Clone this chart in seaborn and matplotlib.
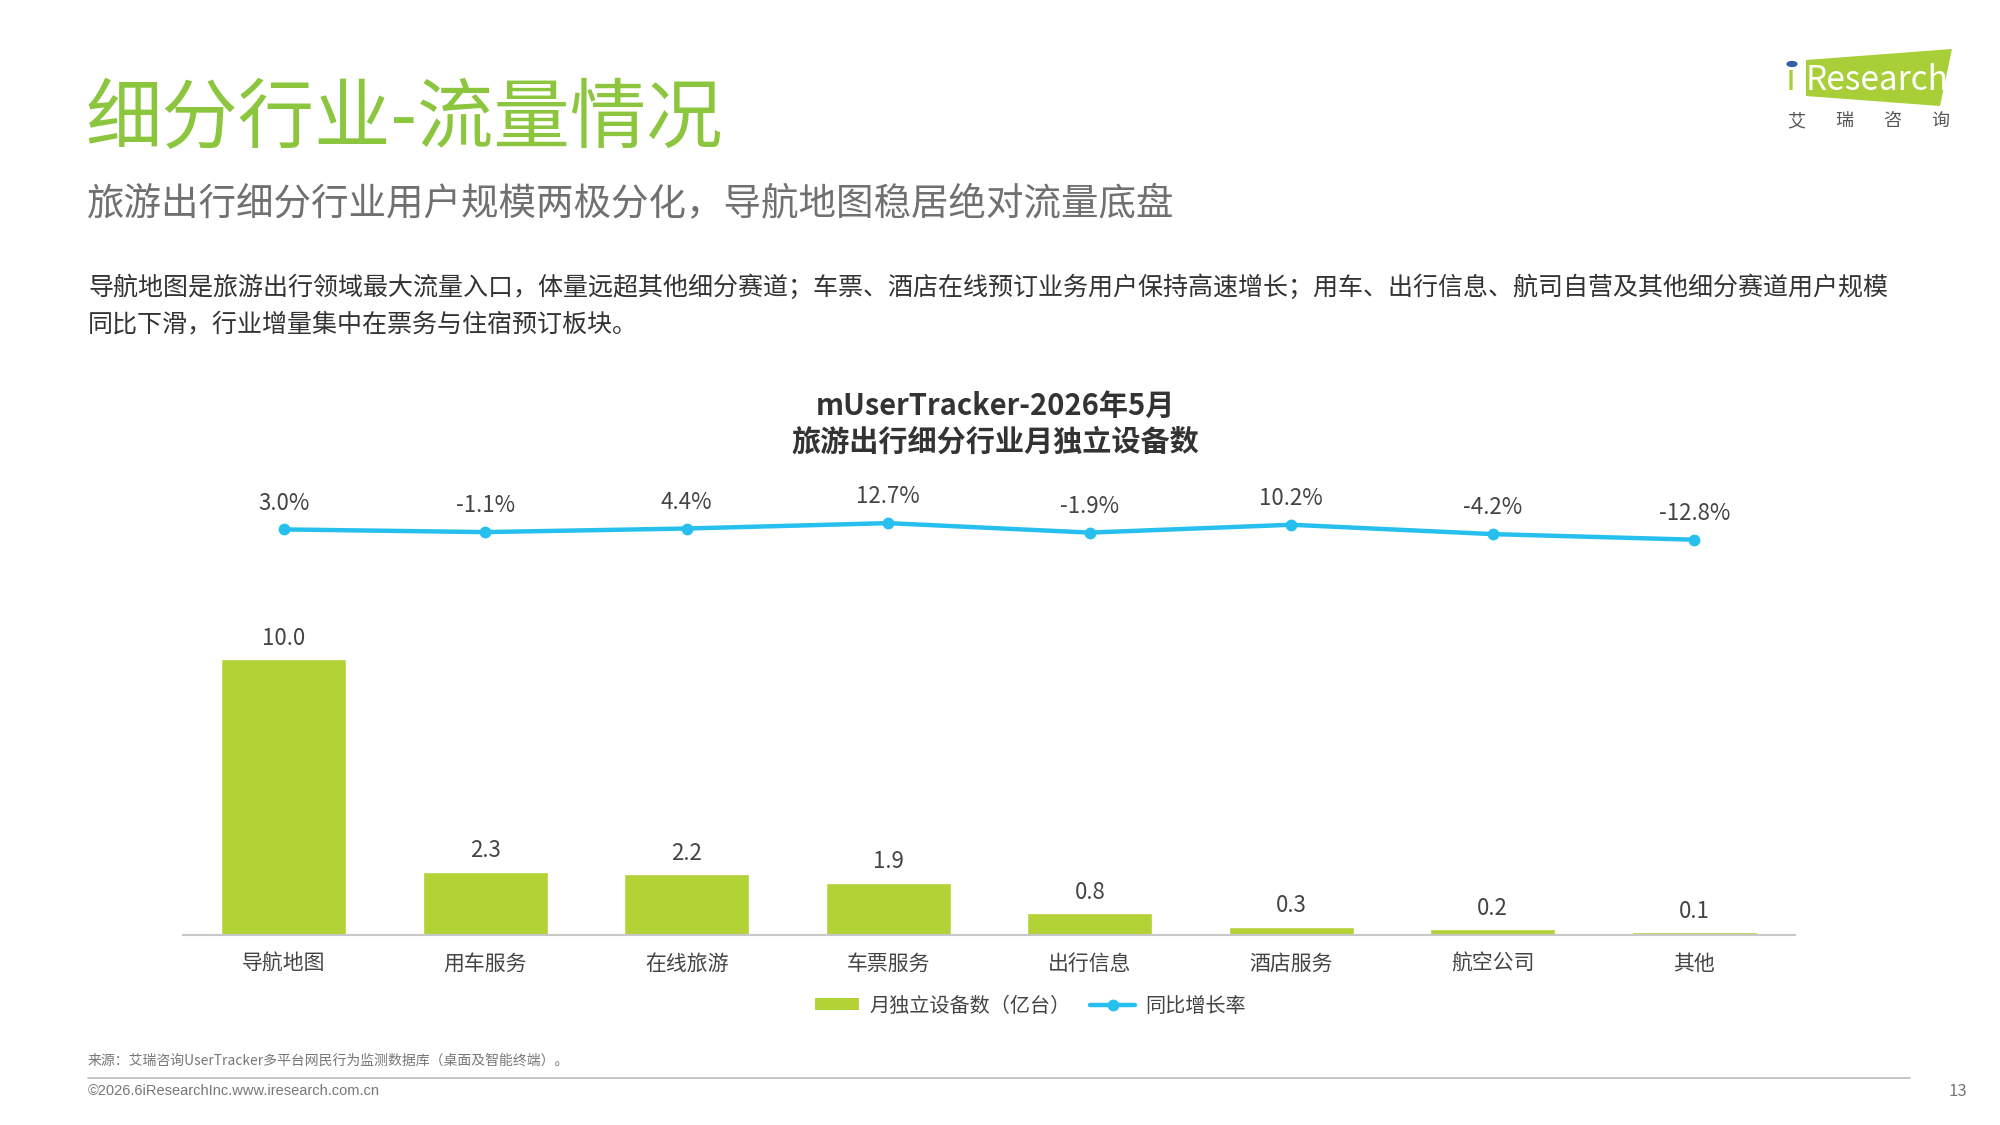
import numpy as np
import pandas as pd
import seaborn as sns
import matplotlib.pyplot as plt
from matplotlib.patches import Patch, Polygon, Circle
from matplotlib.lines import Line2D

# 数据
categories = ['导航地图', '用车服务', '在线旅游', '车票服务', '出行信息', '酒店服务', '航空公司', '其他']
devices = [10.0, 2.3, 2.2, 1.9, 0.8, 0.3, 0.2, 0.1]
growth = [3.0, -1.1, 4.4, 12.7, -1.9, 10.2, -4.2, -12.8]
growth_labels = ['3.0%', '-1.1%', '4.4%', '12.7%', '-1.9%', '10.2%', '-4.2%', '-12.8%']

BAR_GREEN = '#b3d236'
LINE_BLUE = '#27c0ee'
TITLE_GREEN = '#8cc63f'
W, H = 2000, 1125


def px(x, y):
    """像素坐标转换为figure坐标"""
    return x / W, 1 - y / H


sns.set_theme(style='white')
plt.rcParams['font.family'] = ['Noto Sans CJK SC', 'DejaVu Sans']

fig = plt.figure(figsize=(20, 11.25), dpi=100)
fig.patch.set_facecolor('white')

# 标题区域
fig.text(*px(85, 120), '细分行业-流量情况', fontsize=55, color=TITLE_GREEN, va='center', ha='left')
fig.text(*px(87, 205), '旅游出行细分行业用户规模两极分化，导航地图稳居绝对流量底盘',
         fontsize=27, color='#707070', va='center', ha='left')
fig.text(*px(88, 288), '导航地图是旅游出行领域最大流量入口，体量远超其他细分赛道；车票、酒店在线预订业务用户保持高速增长；'
         '用车、出行信息、航司自营及其他细分赛道用户规模', fontsize=18, color='#333333', va='center', ha='left')
fig.text(*px(88, 324), '同比下滑，行业增量集中在票务与住宿预订板块。', fontsize=18, color='#333333', va='center', ha='left')

fig.text(*px(995, 406), 'mUserTracker-2026年5月', fontsize=21, fontweight='bold', color='#333333',
         va='center', ha='center')
fig.text(*px(995, 442), '旅游出行细分行业月独立设备数', fontsize=21, fontweight='bold', color='#333333',
         va='center', ha='center')

# 图表
ax = fig.add_axes([0.0915, 0.1689, 0.806, 0.4044])
df = pd.DataFrame({'category': categories, 'devices': devices})
sns.barplot(data=df, x='category', y='devices', color=BAR_GREEN, saturation=1, width=0.62, ax=ax)
ax.set_xlim(-0.5, len(categories) - 0.5)
ax.set_ylim(0, 16.5)
ax.set_xlabel('')
ax.set_ylabel('')
ax.set_yticks([])
ax.tick_params(axis='x', length=0, labelsize=15, labelcolor='#444444', pad=13)
for s in ['top', 'right', 'left']:
    ax.spines[s].set_visible(False)
ax.spines['bottom'].set_color('#c8c8c8')
ax.spines['bottom'].set_linewidth(1.5)

for i, v in enumerate(devices):
    ax.annotate(f'{v:.1f}', (i, v), xytext=(0, 15), textcoords='offset points',
                ha='center', va='center', fontsize=16, color='#444444')

ax2 = ax.twinx()
x_idx = np.arange(len(categories))
sns.lineplot(x=x_idx, y=growth, color=LINE_BLUE, linewidth=3.2, marker='o', markersize=8.5,
             markeredgewidth=0, ax=ax2)
ax2.set_ylim(-621, 79)
ax2.set_yticks([])
ax2.set_ylabel('')
for s in ['top', 'right', 'left', 'bottom']:
    ax2.spines[s].set_visible(False)
for i, (v, lab) in enumerate(zip(growth, growth_labels)):
    ax2.annotate(lab, (i, v), xytext=(0, 19), textcoords='offset points',
                 ha='center', va='center', fontsize=16, color='#444444')

# 图例
handles = [Patch(facecolor=BAR_GREEN, edgecolor='none', label='月独立设备数（亿台）'),
           Line2D([0], [0], color=LINE_BLUE, linewidth=3.2, marker='o', markersize=8.5,
                  markeredgewidth=0, label='同比增长率')]
fig.legend(handles=handles, loc='center', bbox_to_anchor=px(1030, 1006), ncol=2, frameon=False,
           fontsize=14.5, labelcolor='#444444', handlelength=2.2, handleheight=0.55,
           columnspacing=1.0, handletextpad=0.5)

# 页脚
fig.text(*px(88, 1061), '来源：艾瑞咨询UserTracker多平台网民行为监测数据库（桌面及智能终端）。',
         fontsize=10, color='#777777', va='center', ha='left')
fig.add_artist(Line2D([88 / W, 1910 / W], [1 - 1078 / H, 1 - 1078 / H], color='#bbbbbb', linewidth=1.2))
fig.text(*px(88, 1091), '©2026.6iResearchInc.www.iresearch.com.cn', fontsize=10.5, color='#777777',
         va='center', ha='left', family=['Liberation Sans', 'DejaVu Sans'])
fig.text(*px(1958, 1091), '13', fontsize=12, color='#777777', va='center', ha='center')

# logo
logo = Polygon([px(1806, 60), px(1952, 49), px(1940, 106), px(1806, 96)], closed=True,
               facecolor='#a8cf38', edgecolor='none', transform=fig.transFigure)
fig.add_artist(logo)
fig.text(*px(1786, 80), 'ı', fontsize=26, color='#a8cf38', va='center', ha='left')
fig.add_artist(Circle(px(1792, 64), 0.0028, facecolor='#2f5fa8', edgecolor='none',
                      transform=fig.transFigure))
fig.text(*px(1806, 80), 'Research', fontsize=24, color='white', va='center', ha='left')
for j, ch in enumerate(['艾', '瑞', '咨', '询']):
    fig.text(*px(1796 + j * 48, 121), ch, fontsize=13, color='#555555', va='center', ha='center')

fig.savefig('out.png', dpi=100, facecolor='white')
